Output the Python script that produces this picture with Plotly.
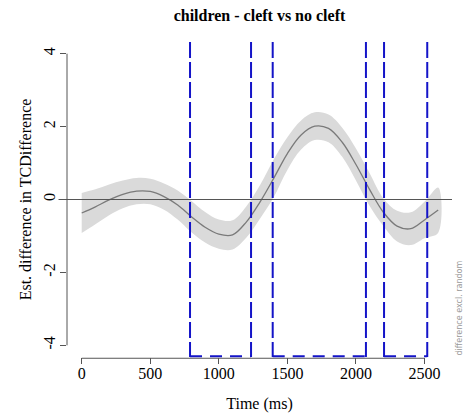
import plotly.graph_objects as go

# ---- data ----
time_ms = [0, 100, 200, 300, 400, 500, 600, 700, 800, 900, 1000, 1100, 1200, 1300,
           1400, 1500, 1600, 1700, 1800, 1900, 2000, 2100, 2200, 2300, 2400, 2500, 2600]
est_diff = [-0.37, -0.20, -0.01, 0.14, 0.23, 0.22, 0.08, -0.15, -0.47, -0.76, -0.95, -0.97,
            -0.62, -0.07, 0.58, 1.26, 1.77, 2.01, 1.95, 1.57, 0.96, 0.27, -0.35, -0.73,
            -0.80, -0.56, -0.29]
ci_halfwidth = [0.55, 0.48, 0.42, 0.38, 0.36, 0.35, 0.36, 0.40, 0.43, 0.42, 0.40, 0.40,
                0.43, 0.46, 0.52, 0.45, 0.40, 0.38, 0.38, 0.40, 0.44, 0.45, 0.38, 0.42,
                0.45, 0.50, 0.62]
sig_start = [790, 1393, 2205]
sig_end = [1235, 2073, 2520]
x_ticks = [0, 500, 1000, 1500, 2000, 2500]
x_ticktext = ["0", "500", "1000", "1500", "2000", "2500"]
y_ticks = [-4, -2, 0, 2, 4]
y_ticktext = ["-4", "-2", "0", "2", "4"]

upper = [f + h for f, h in zip(est_diff, ci_halfwidth)]
lower = [f - h for f, h in zip(est_diff, ci_halfwidth)]

BLUE = "#1414c8"
SERIF = "Liberation Serif"
fig = go.Figure()

fig.add_trace(go.Scatter(
    x=time_ms + time_ms[::-1], y=upper + lower[::-1],
    fill="toself", fillcolor="#dadada", line=dict(width=0, shape="spline"),
    mode="lines", hoverinfo="skip", showlegend=False))
fig.add_trace(go.Scatter(
    x=time_ms, y=est_diff, mode="lines",
    line=dict(color="#7a7a7a", width=1.3, shape="spline"), showlegend=False))

shapes = []
# zero line
shapes.append(dict(type="line", xref="paper", yref="y", x0=-0.022, x1=1, y0=0, y1=0,
                   line=dict(color="#555555", width=1)))
# y axis line (R style, from first to last tick)
shapes.append(dict(type="line", xref="paper", yref="y", x0=0, x1=0,
                   y0=y_ticks[0], y1=y_ticks[-1], line=dict(color="#555555", width=1)))
# x axis line
shapes.append(dict(type="line", xref="x", yref="paper", x0=x_ticks[0], x1=x_ticks[-1],
                   y0=-0.004, y1=-0.004, line=dict(color="#555555", width=1)))
# significance markers
for s, e in zip(sig_start, sig_end):
    for v in (s, e):
        shapes.append(dict(type="line", xref="x", yref="paper", x0=v, x1=v, y0=1, y1=0,
                           line=dict(color=BLUE, width=2, dash="16px,4px")))
    shapes.append(dict(type="line", xref="x", yref="paper", x0=s, x1=e, y0=0.002, y1=0.002,
                       line=dict(color=BLUE, width=2, dash="12px,8px")))

fig.update_layout(
    width=466, height=413,
    margin=dict(l=67, r=14, t=42, b=56),
    paper_bgcolor="white", plot_bgcolor="white",
    font=dict(family=SERIF, size=16, color="black"),
    title=dict(text="<b>children - cleft vs no cleft</b>", x=0.5, xref="paper",
               y=1 - 15 / 413, yanchor="middle", font=dict(family=SERIF, size=16)),
    shapes=shapes,
    xaxis=dict(range=[-107.2, 2700.6], showgrid=False, zeroline=False, showline=False,
               automargin=False,
               tickvals=x_ticks, ticktext=x_ticktext, ticks="outside", ticklen=6,
               tickcolor="#555555", ticklabelstandoff=-4,
               tickfont=dict(family=SERIF, size=16, color="black"),
               title=dict(text="Time (ms)", standoff=16, font=dict(family=SERIF, size=16))),
    yaxis=dict(range=[-4.32, 4.32], showgrid=False, zeroline=False, showline=False,
               automargin=False,
               tickvals=y_ticks, ticktext=y_ticktext, ticks="outside", ticklen=6,
               tickcolor="#555555", tickangle=-90, ticklabelstandoff=-1,
               tickfont=dict(family=SERIF, size=16, color="black"),
               title=dict(text="Est. difference in TCDifference", standoff=4,
                          font=dict(family=SERIF, size=16))),
    annotations=[dict(text="difference excl. random", xref="paper", yref="paper",
                      x=(459 - 67) / 385, y=0, xanchor="center", yanchor="bottom",
                      textangle=-90, showarrow=False,
                      font=dict(family="DejaVu Sans", size=8, color="#999999"))],
)

fig.write_html("out.html")
